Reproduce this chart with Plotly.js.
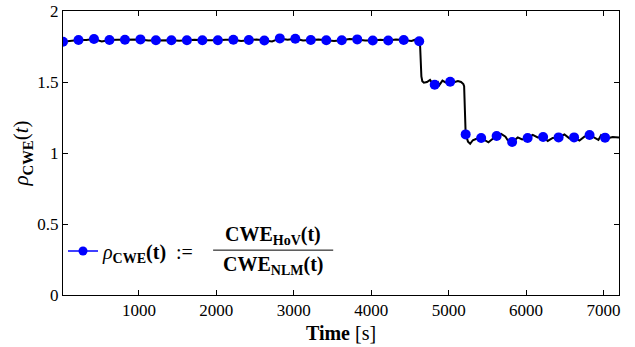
<!DOCTYPE html>
<html>
<head>
<meta charset="utf-8">
<script src="https://cdn.plot.ly/plotly-3.0.1.min.js"></script>
<style>html,body{margin:0;padding:0;background:#fff;}#chart{width:635px;height:347px;}</style>
</head>
<body>
<div id="chart"></div>
<script>
// Black line: time [s] and rho values
const lineTime = [20,120,220,320,420,520,620,720,820,920,1020,1120,1220,1320,1420,1520,1620,1720,1820,1920,
  2020,2120,2220,2320,2420,2520,2620,2720,2820,2920,3020,3120,3220,3320,3420,3520,3620,3720,3820,3920,
  4020,4120,4220,4320,4420,4520,4570,4620,4632,4640,4648,4660,4680,4720,4760,4790,4820,4860,4880,4920,
  4960,5020,5080,5120,5160,5190,5200,5210,5218,5220,5250,5278,5312,5360,5420,5470,5514,5570,5620,5678,
  5734,5763,5820,5893,5949,6020,6086,6150,6220,6280,6344,6420,6495,6560,6620,6689,6753,6820,6883,6934,
  6969,7020,7070,7118,7200];
const lineRho = [1.784,1.790,1.796,1.795,1.803,1.786,1.796,1.797,1.798,1.795,1.800,1.793,1.794,1.797,1.794,1.791,1.794,1.797,1.794,1.792,
  1.794,1.797,1.798,1.789,1.796,1.799,1.792,1.785,1.807,1.798,1.805,1.793,1.796,1.799,1.794,1.788,1.794,1.803,1.800,1.793,
  1.792,1.797,1.792,1.800,1.796,1.789,1.798,1.787,1.750,1.620,1.540,1.505,1.495,1.500,1.515,1.490,1.481,1.500,1.478,1.510,
  1.497,1.502,1.500,1.507,1.500,1.485,1.470,1.300,1.140,1.131,1.080,1.065,1.090,1.100,1.106,1.090,1.075,1.100,1.120,1.134,
  1.115,1.090,1.077,1.110,1.096,1.106,1.127,1.110,1.113,1.085,1.106,1.110,1.130,1.103,1.110,1.088,1.115,1.127,1.110,1.092,
  1.125,1.108,1.105,1.112,1.110];

// Blue markers
const markerTime = [20,220,420,620,820,1020,1220,1420,1620,1820,2020,2220,2420,2620,2820,3020,3220,3420,
  3620,3820,4020,4220,4420,4620,4820,5020,5220,5420,5620,5820,6020,6220,6420,6620,6820,7020];
const markerRho = [1.784,1.796,1.803,1.796,1.798,1.800,1.794,1.794,1.794,1.794,1.794,1.798,1.796,1.792,1.807,1.805,1.796,1.794,
  1.794,1.800,1.792,1.792,1.796,1.787,1.481,1.502,1.131,1.106,1.120,1.077,1.106,1.113,1.110,1.110,1.127,1.108];

const xTicks = [1000,2000,3000,4000,5000,6000,7000];
const yTicks = [0,0.5,1,1.5,2];
const yTickText = ['0','0.5','1','1.5','2'];

const FONT = 'Liberation Serif';

const traces = [
  {x: lineTime, y: lineRho, type: 'scatter', mode: 'lines',
   line: {color: '#000000', width: 2}, showlegend: false, hoverinfo: 'skip'},
  {x: markerTime, y: markerRho, type: 'scatter', mode: 'markers',
   marker: {color: '#0000ff', size: 10}, showlegend: false},
  {x: [null], y: [null], type: 'scatter', mode: 'lines+markers',
   line: {color: '#0000ff', width: 1.5}, marker: {color: '#0000ff', size: 9},
   name: '<i>ρ</i><sub><b>CWE</b></sub><b>(t)</b>&nbsp;&nbsp;:=', showlegend: true}
];

const axisCommon = {
  showline: true, linecolor: '#000', linewidth: 1, mirror: 'ticks',
  ticks: 'inside', ticklen: 5, tickcolor: '#000', tickwidth: 1,
  showgrid: false, zeroline: false,
  tickfont: {family: FONT, size: 17, color: '#000'}
};

const layout = {
  width: 635, height: 347,
  margin: {l: 63, r: 16, t: 11, b: 52},
  paper_bgcolor: '#fff', plot_bgcolor: '#fff',
  font: {family: FONT, color: '#000'},
  xaxis: Object.assign({}, axisCommon, {
    range: [20, 7200], tickvals: xTicks, ticktext: xTicks.map(String),
    title: {text: '<b>Time</b> [s]', font: {family: FONT, size: 20, color: '#000'}, standoff: 6}
  }),
  yaxis: Object.assign({}, axisCommon, {
    range: [0, 2], tickvals: yTicks, ticktext: yTickText,
    title: {text: '<i>ρ</i><sub><b>CWE</b></sub>(<i>t</i>)', font: {family: FONT, size: 21, color: '#000'}, standoff: 2}
  }),
  showlegend: true,
  legend: {x: 0.0, y: 0.155, xanchor: 'left', yanchor: 'middle',
    bgcolor: 'rgba(0,0,0,0)', borderwidth: 0,
    font: {family: FONT, size: 20, color: '#000'}},
  annotations: [
    {xref: 'paper', yref: 'paper', x: 0.378, y: 0.21, xanchor: 'center', yanchor: 'middle', showarrow: false,
     text: '<b>CWE<sub>HoV</sub>(t)</b>', font: {family: FONT, size: 20, color: '#000'}},
    {xref: 'paper', yref: 'paper', x: 0.378, y: 0.105, xanchor: 'center', yanchor: 'middle', showarrow: false,
     text: '<b>CWE<sub>NLM</sub>(t)</b>', font: {family: FONT, size: 20, color: '#000'}}
  ],
  shapes: [
    {type: 'line', xref: 'paper', yref: 'paper', x0: 0.27, x1: 0.486, y0: 0.158, y1: 0.158,
     line: {color: '#000', width: 1}}
  ]
};

Plotly.newPlot('chart', traces, layout, {displayModeBar: false, staticPlot: true});
</script>
</body>
</html>
